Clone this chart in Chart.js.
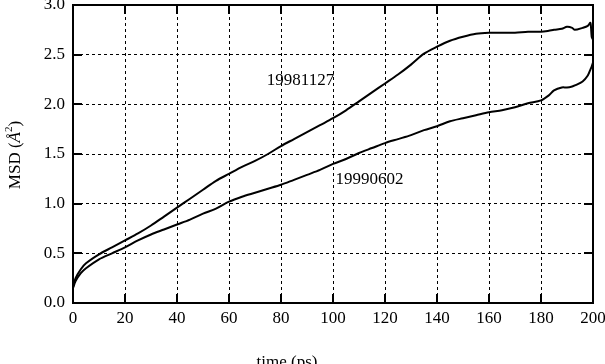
<!DOCTYPE html>
<html>
<head>
<meta charset="utf-8">
<script src="https://cdn.jsdelivr.net/npm/chart.js@4/dist/chart.umd.min.js"></script>
<style>
  html, body { margin: 0; padding: 0; background: #fff; }
  #wrap { width: 605px; height: 364px; }
</style>
</head>
<body>
<div id="wrap"><canvas id="msd"></canvas></div>
<script>
const times = [0, 1, 3, 5, 10, 15, 20, 25, 30, 35, 40, 45, 50, 55, 60, 65, 70, 75, 80, 85, 90, 95, 100,
  105, 110, 115, 120, 125, 130, 135, 140, 145, 150, 155, 160, 165, 170, 175, 180, 183, 185, 188, 190,
  192, 193, 196, 198, 199, 199.5, 200];
const run19981127 = [0.16, 0.25, 0.34, 0.40, 0.49, 0.56, 0.63, 0.70, 0.78, 0.87, 0.96, 1.05, 1.14, 1.23, 1.30,
  1.37, 1.43, 1.50, 1.58, 1.65, 1.72, 1.79, 1.86, 1.94, 2.03, 2.12, 2.21, 2.30, 2.40, 2.51, 2.58, 2.64,
  2.68, 2.71, 2.72, 2.72, 2.72, 2.73, 2.73, 2.74, 2.75, 2.76, 2.78, 2.77, 2.75, 2.77, 2.79, 2.82, 2.68, 2.65];
const run19990602 = [0.15, 0.22, 0.30, 0.35, 0.44, 0.50, 0.56, 0.63, 0.69, 0.74, 0.79, 0.84, 0.90, 0.95, 1.02,
  1.07, 1.11, 1.15, 1.19, 1.24, 1.29, 1.34, 1.40, 1.45, 1.51, 1.56, 1.61, 1.65, 1.69, 1.74, 1.78, 1.83,
  1.86, 1.89, 1.92, 1.94, 1.97, 2.01, 2.04, 2.09, 2.14, 2.17, 2.17, 2.18, 2.19, 2.23, 2.29, 2.35, 2.38, 2.42];
const xTicks = [0, 20, 40, 60, 80, 100, 120, 140, 160, 180, 200];
const yTicks = [0.0, 0.5, 1.0, 1.5, 2.0, 2.5, 3.0];
// run labels written inside the plot, [text, time, msd]
const runLabels = [['19981127', 87.5, 2.24], ['19990602', 114, 1.24]];

const serif = "'Liberation Serif', 'DejaVu Serif', serif";

function toPoints(ys) {
  return times.map((t, i) => ({ x: t, y: ys[i] }));
}

const frame = {
  id: 'frame',
  afterDraw(chart) {
    const { ctx, chartArea: a, scales: { x, y } } = chart;
    ctx.save();
    ctx.strokeStyle = '#000';
    ctx.lineWidth = 2;
    ctx.strokeRect(a.left, a.top, a.right - a.left, a.bottom - a.top);
    const len = 9;
    ctx.beginPath();
    xTicks.forEach(v => {
      const px = Math.round(x.getPixelForValue(v));
      ctx.moveTo(px, a.bottom); ctx.lineTo(px, a.bottom - len);
      ctx.moveTo(px, a.top); ctx.lineTo(px, a.top + len);
    });
    yTicks.forEach(v => {
      const py = Math.round(y.getPixelForValue(v));
      ctx.moveTo(a.left, py); ctx.lineTo(a.left + len, py);
      ctx.moveTo(a.right, py); ctx.lineTo(a.right - len, py);
    });
    ctx.stroke();

    ctx.fillStyle = '#000';
    ctx.font = `17px ${serif}`;
    ctx.textAlign = 'center';
    ctx.textBaseline = 'middle';
    runLabels.forEach(([txt, t, v]) => {
      ctx.fillText(txt, x.getPixelForValue(t), y.getPixelForValue(v));
    });

    // axis titles
    ctx.font = `17px ${serif}`;
    ctx.textBaseline = 'top';
    ctx.fillText('time (ps)', 287, 354);

    ctx.translate(16, 155);
    ctx.rotate(-Math.PI / 2);
    ctx.textBaseline = 'middle';
    ctx.textAlign = 'left';
    const parts = [['MSD (', `17px ${serif}`, 0], ['Å', `italic 17px ${serif}`, 0], ['2', `11px ${serif}`, -7], [')', `17px ${serif}`, 0]];
    let total = 0;
    parts.forEach(p => { ctx.font = p[1]; total += ctx.measureText(p[0]).width; });
    let cx = -total / 2;
    parts.forEach(p => {
      ctx.font = p[1];
      ctx.fillText(p[0], cx, p[2]);
      cx += ctx.measureText(p[0]).width;
    });
    ctx.restore();
  }
};

new Chart(document.getElementById('msd'), {
  type: 'line',
  data: {
    datasets: [
      { label: '19981127', data: toPoints(run19981127), borderColor: '#000', borderWidth: 2, pointRadius: 0, tension: 0.3, fill: false },
      { label: '19990602', data: toPoints(run19990602), borderColor: '#000', borderWidth: 2, pointRadius: 0, tension: 0.3, fill: false }
    ]
  },
  options: {
    responsive: true,
    maintainAspectRatio: false,
    animation: false,
    layout: { padding: { top: 5, right: 12, left: 0, bottom: 0 } },
    plugins: { legend: { display: false }, tooltip: { enabled: false } },
    scales: {
      x: {
        type: 'linear',
        min: 0, max: 200,
        afterBuildTicks: s => { s.ticks = xTicks.map(v => ({ value: v })); },
        afterFit: s => { s.height = 61; s.paddingLeft = 0; s.paddingRight = 0; },
        ticks: { color: '#000', font: { family: serif, size: 17 }, padding: 5, maxRotation: 0, autoSkip: false },
        grid: { color: '#000', lineWidth: 1, drawTicks: false },
        border: { display: true, color: '#000', width: 2, dash: [3, 3] }
      },
      y: {
        type: 'linear',
        min: 0, max: 3,
        afterBuildTicks: s => { s.ticks = yTicks.map(v => ({ value: v })); },
        afterFit: s => { s.width = 73; s.paddingTop = 0; s.paddingBottom = 0; },
        ticks: { color: '#000', font: { family: serif, size: 17 }, padding: 8, callback: v => v.toFixed(1) },
        grid: { color: '#000', lineWidth: 1, drawTicks: false },
        border: { display: true, color: '#000', width: 2, dash: [3, 3] }
      }
    }
  },
  plugins: [frame]
});
</script>
</body>
</html>
